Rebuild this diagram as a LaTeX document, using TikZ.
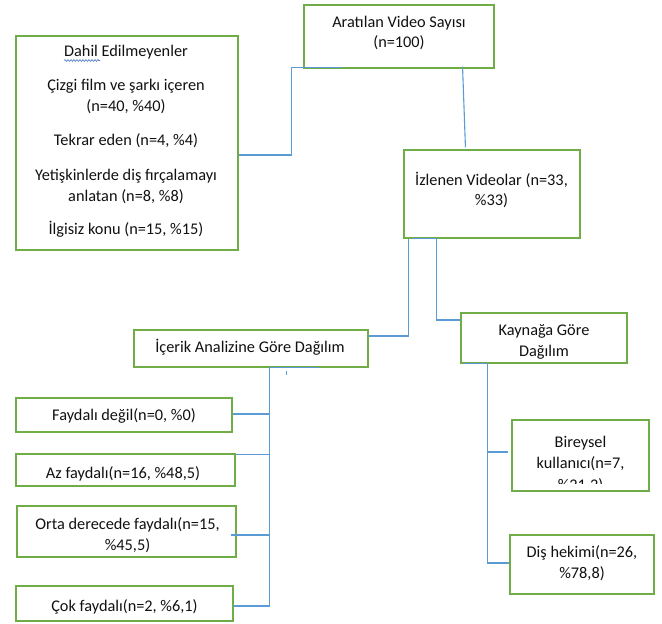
\documentclass[tikz,border=0pt]{standalone}
\usepackage{fontspec}
\setmainfont{Carlito}
\usetikzlibrary{calc,decorations.pathmorphing}
\definecolor{boxgreen}{HTML}{70AD47}
\definecolor{lineblue}{HTML}{5B9BD5}
\definecolor{squig}{HTML}{4472C4}
\definecolor{txt}{HTML}{111111}
\tikzset{
  box/.style={draw=boxgreen, line width=1.1pt, rectangle, inner sep=0pt},
  conn/.style={draw=lineblue, line width=1.1pt},
  lbl/.style={text=txt, align=center, inner sep=0pt, font=\fontsize{16.3}{20.5}\selectfont},
}
\begin{document}
\begin{tikzpicture}[x=1pt,y=-1pt]
\fill[white] (0,0) rectangle (662,624);
\useasboundingbox (0,0) rectangle (662,624);

% boxes
\node[box, minimum width=222pt, minimum height=214pt] (dahil) at (127,143) {};
\node[box, minimum width=190pt, minimum height=63pt] (arat) at (399,36.5) {};
\node[box, minimum width=176pt, minimum height=88pt] (izl) at (492,194) {};
\node[box, minimum width=234pt, minimum height=37pt] (icerik) at (251,348.5) {};
\node[box, minimum width=166pt, minimum height=50pt] (kayn) at (544,338) {};
\node[box, minimum width=137pt, minimum height=71pt] (birey) at (580.5,455.5) {};
\node[box, minimum width=144pt, minimum height=59pt] (dis) at (582,564.5) {};
\node[box, minimum width=216pt, minimum height=34pt] (f1) at (124,415) {};
\node[box, minimum width=219pt, minimum height=32pt] (f2) at (125.5,470) {};
\node[box, minimum width=219pt, minimum height=51pt] (f3) at (126.5,531.5) {};
\node[box, minimum width=217pt, minimum height=35pt] (f4) at (124.5,603.5) {};

% texts
\node[lbl] (tdahil) at (126,141) {Dahil Edilmeyenler\\[13.5pt] Çizgi film ve şarkı içeren\\ (n=40, \%40)\\[13.5pt] Tekrar eden (n=4, \%4)\\[15pt] Yetişkinlerde diş fırçalamayı\\ anlatan (n=8, \%8)\\[12.5pt] İlgisiz konu (n=15, \%15)};
\draw[squig, line width=0.6pt, decorate, decoration={snake, amplitude=0.9pt, segment length=3pt}] (64,60.5) -- (100,60.5);
\node[lbl] (tarat) at (399,33) {Aratılan Video Sayısı\\ (n=100)};
\node[lbl] (tizl) at (491.5,190) {İzlenen Videolar (n=33,\\ \%33)};
\node[lbl] (ticerik) at (250,347.5) {İçerik Analizine Göre Dağılım};
\begin{scope}
  \clip (461,313) rectangle (627,360);
  \node[lbl] (tkayn) at (544,342) {Kaynağa Göre\\ Dağılım};
\end{scope}
\begin{scope}
  \clip (512,420) rectangle (649,483);
  \node[lbl, font=\fontsize{16.3}{21.5}\selectfont] (tbirey) at (580.5,464) {Bireysel\\ kullanıcı(n=7,\\ \%21,2)};
\end{scope}
\node[lbl] (tdis) at (582,563) {Diş hekimi(n=26,\\ \%78,8)};
\node[lbl] (tf1) at (124,415.5) {Faydalı değil(n=0, \%0)};
\node[lbl] (tf2) at (123,473.5) {Az faydalı(n=16, \%48,5)};
\node[lbl] (tf3) at (127.5,535) {Orta derecede faydalı(n=15,\\ \%45,5)};
\node[lbl] (tf4) at (124.5,606.5) {Çok faydalı(n=2, \%6,1)};

% connectors
\draw[conn] ($(dahil.east)+(0,12)$) -| ($(arat.south west)+(-12,-1)$) -- ($(arat.south west)+(39,-1)$);
\draw[conn] ($(arat.south east)+(-32,-2)$) -- ($(izl.north west)+(62,-2)$);
\draw[conn] ($(izl.south west)+(5,0)$) |- ($(icerik.east)+(0,-12.5)$);
\draw[conn] ($(izl.south west)+(9,0)$) -- ($(izl.south west)+(33,0)$) |- ($(kayn.west)+(0,-18)$);

\coordinate (ib) at ($(icerik.south west)+(136,0)$);
\draw[conn] (ib) -- ++(50,0);
\draw[conn] ($(f1.east)+(0,-1)$) -| (ib);
\draw[conn] ($(f2.north east)+(0,1)$) -| (ib);
\draw[conn] ($(f3.east)+(-6,3.5)$) -| (ib);
\draw[conn] ($(f4.east)+(0,2.5)$) -| (ib);
\draw[conn, line width=0.8pt] ($(icerik.south west)+(153,3)$) -- ++(0,4);

\coordinate (kb) at ($(kayn.south west)+(27,0)$);
\draw[conn] ($(kayn.south west)+(4,0)$) -- (kb);
\draw[conn] ($(birey.west)+(-3,-3.5)$) -| (kb);
\draw[conn] ($(dis.west)+(0,-1.5)$) -| (kb);
\end{tikzpicture}
\end{document}
